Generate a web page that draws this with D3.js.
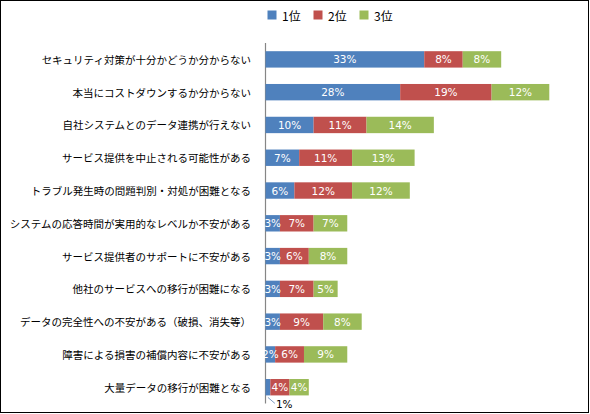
<!DOCTYPE html>
<html><head><meta charset="utf-8">
<script src="https://cdn.jsdelivr.net/npm/d3@7"></script>
<style>html,body{margin:0;padding:0;background:#fff;}svg{display:block;}</style>
</head><body>
<svg id="chart" width="590" height="414"></svg>
<script>
const categories = [
  "セキュリティ対策が十分かどうか分からない",
  "本当にコストダウンするか分からない",
  "自社システムとのデータ連携が行えない",
  "サービス提供を中止される可能性がある",
  "トラブル発生時の問題判別・対処が困難となる",
  "システムの応答時間が実用的なレベルか不安がある",
  "サービス提供者のサポートに不安がある",
  "他社のサービスへの移行が困難になる",
  "データの完全性への不安がある（破損、消失等）",
  "障害による損害の補償内容に不安がある",
  "大量データの移行が困難となる"
];
const rank1 = [33, 28, 10, 7, 6, 3, 3, 3, 3, 2, 1];
const rank2 = [8, 19, 11, 11, 12, 7, 6, 7, 9, 6, 4];
const rank3 = [8, 12, 14, 13, 12, 7, 8, 5, 8, 9, 4];
const seriesNames = ["1位", "2位", "3位"];
const seriesColors = ["#4F81BD", "#C0504D", "#9BBB59"];

const svg = d3.select("#chart");
const jp = "'Noto Sans CJK JP', 'Noto Sans', sans-serif";
const num = "'DejaVu Sans', sans-serif";

svg.append("rect").attr("x", 0.5).attr("y", 0.5).attr("width", 588).attr("height", 412)
  .attr("fill", "#fff").attr("stroke", "#000").attr("stroke-width", 1);

const rows = categories.map((c, i) => ({cat: c, r1: rank1[i], r2: rank2[i], r3: rank3[i]}));
const keys = ["r1", "r2", "r3"];
const stacked = d3.stack().keys(keys)(rows);

const x = d3.scaleLinear().domain([0, 60]).range([265.5, 265.5 + 60 * 4.81]);
const y = d3.scaleBand().domain(categories).range([43, 403.6]).paddingInner(0.5).paddingOuter(0.25);

// category axis
svg.append("line").attr("x1", 265.5).attr("x2", 265.5).attr("y1", 43).attr("y2", 403.6)
  .attr("stroke", "#868686").attr("stroke-width", 1.2);

svg.append("g").selectAll("text").data(categories).join("text")
  .attr("x", 251).attr("y", d => y(d) + y.bandwidth() / 2)
  .attr("text-anchor", "end").attr("dominant-baseline", "central")
  .attr("font-family", jp).attr("font-size", 10.5).attr("fill", "#000")
  .text(d => d);

// bars
const g = svg.append("g");
stacked.forEach((s, si) => {
  g.append("g").selectAll("rect").data(s).join("rect")
    .attr("x", d => x(d[0])).attr("width", d => x(d[1]) - x(d[0]))
    .attr("y", d => y(d.data.cat)).attr("height", y.bandwidth())
    .attr("fill", seriesColors[si]);
});

// data labels
stacked.forEach((s, si) => {
  g.append("g").selectAll("text").data(s.filter(d => d[1] - d[0] >= 2)).join("text")
    .attr("x", d => (x(d[0]) + x(d[1])) / 2)
    .attr("y", d => y(d.data.cat) + y.bandwidth() / 2)
    .attr("text-anchor", "middle").attr("dominant-baseline", "central")
    .attr("font-family", num).attr("font-size", 10.5).attr("fill", "#fff")
    .text(d => (d[1] - d[0]) + "%");
});

// small outside label with leader line
stacked[0].filter(d => d[1] - d[0] < 2).forEach(d => {
  const cx = (x(d[0]) + x(d[1])) / 2;
  const by = y(d.data.cat) + y.bandwidth();
  svg.append("line").attr("x1", cx).attr("y1", by + 2).attr("x2", cx + 7).attr("y2", by + 8)
    .attr("stroke", "#7F9CC0").attr("stroke-width", 1);
  svg.append("text").attr("x", cx + 8).attr("y", by + 8.5)
    .attr("dominant-baseline", "central")
    .attr("font-family", num).attr("font-size", 10.5).attr("fill", "#000")
    .text((d[1] - d[0]) + "%");
});

// legend
const lg = svg.append("g");
const legX = [267.5, 313.5, 359.5];
seriesNames.forEach((n, i) => {
  lg.append("rect").attr("x", legX[i]).attr("y", 10.5).attr("width", 9).attr("height", 9)
    .attr("fill", seriesColors[i]);
  lg.append("text").attr("x", legX[i] + 14.5).attr("y", 15.5)
    .attr("dominant-baseline", "central")
    .attr("font-family", jp).attr("font-size", 12).attr("fill", "#000")
    .text(n);
});
</script>
</body></html>
